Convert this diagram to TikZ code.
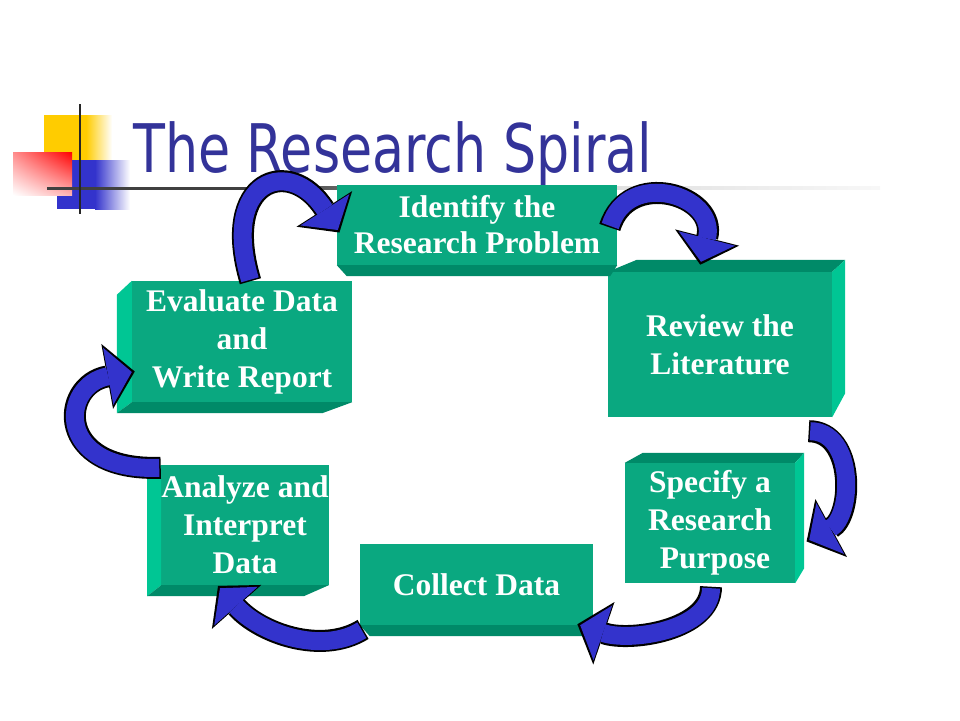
\documentclass[tikz,border=0pt]{standalone}
\usepackage{fontspec}
\usepackage{graphicx}
\setmainfont{Liberation Serif}
\newfontfamily\titlefont{DejaVu Sans}
\usetikzlibrary{arrows.meta,calc,shadings}
\definecolor{boxteal}{RGB}{10,168,128}
\definecolor{boxdark}{RGB}{0,138,104}
\definecolor{boxlight}{RGB}{0,198,148}
\definecolor{arrowblue}{RGB}{51,51,204}
\definecolor{titleblue}{RGB}{51,51,153}
\definecolor{logoyellow}{RGB}{255,204,0}
\definecolor{logored}{RGB}{255,0,0}
\tikzset{
  stagebox/.style={fill=boxteal, text=white, inner sep=0pt, align=center,
    font=\bfseries\fontsize{31.5}{38}\selectfont},
  spiralarrow/.style={draw=arrowblue, line width=18pt,
    -{Triangle[length=24pt,width=58pt,line width=0pt]},
    preaction={draw=black, line width=22pt, shorten >=-3pt, shorten <=-1.5pt,
      -{Triangle[length=28pt,width=66pt,line width=0pt]}}}
}
\begin{document}
\begin{tikzpicture}[x=1pt, y=-1pt]
        \useasboundingbox (0,0) rectangle (960,720);
        \fill[logoyellow] (44,115) rectangle (86,160);
        \shade[left color=logoyellow, right color=white] (86,115) rectangle (112,160);
        \fill[arrowblue] (57,160) rectangle (95,209);
        \shade[left color=arrowblue, right color=white] (95,160) rectangle (130,209);
        \shade[upper left=logored!45!white, upper right=logored, lower left=white, lower right=logored!30!white] (13,152) rectangle (72,195);
        \fill[black!75] (47,186.5) rectangle (260,189.5);
        \shade[left color=black!75, right color=black!12] (260,186.5) rectangle (620,189.5);
        \shade[left color=black!12, right color=black!3] (620,186.5) rectangle (880,189.5);
        \draw[black!85, line width=2.5pt] (80,104) -- (80,214);
        \node [anchor=base west, inner sep=0pt, text=titleblue, font=\titlefont\fontsize{67}{80}\selectfont] (title) at (133,172) {\scalebox{0.78}[1]{The Research Spiral}};
        \node [stagebox, minimum width=280pt, minimum height=80pt, font=\bfseries\fontsize{31.5}{36}\selectfont] (identify) at (477,225) {Identify the\\Research Problem};
        \node [stagebox, minimum width=224pt, minimum height=145pt] (review) at (720,344.5) {Review the\\Literature};
        \node [stagebox, minimum width=170pt, minimum height=120pt] (specify) at (710,523) {Specify a\\Research\\\hspace*{10pt}Purpose};
        \node [stagebox, minimum width=233pt, minimum height=81pt] (collect) at (476.5,584.5) {Collect Data};
        \node [stagebox, minimum width=166pt, minimum height=120pt] (analyze) at (245,525) {Analyze and\\Interpret\\Data};
        \node [stagebox, minimum width=220pt, minimum height=121pt] (evaluate) at (242,341.5) {Evaluate Data\\and\\Write Report};
        \fill[boxdark] (identify.south west) -- (identify.south east) -- ++(-7,11) -- ($(identify.south west)+(10,11)$) -- cycle;
        \fill[boxdark] (review.north west) -- ++(29,-12) -- ($(review.north east)+(13,-12)$) -- (review.north east) -- cycle;
        \fill[boxlight] (review.north east) -- ++(13,-12) -- ($(review.south east)+(13,-24)$) -- (review.south east) -- cycle;
        \fill[boxdark] (specify.north west) -- ++(18,-10) -- ($(specify.north east)+(9,-10)$) -- (specify.north east) -- cycle;
        \fill[boxlight] (specify.north east) -- ++(9,-10) -- ($(specify.south east)+(9,-15)$) -- (specify.south east) -- cycle;
        \fill[boxdark] (collect.south west) -- (collect.south east) -- ++(-11,11) -- ($(collect.south west)+(10,11)$) -- cycle;
        \fill[boxlight] (analyze.north west) -- ++(-14,13) -- ($(analyze.south west)+(-14,11)$) -- (analyze.south west) -- cycle;
        \fill[boxdark] (analyze.south west) -- (analyze.south east) -- ++(-25,11) -- ($(analyze.south west)+(-14,11)$) -- cycle;
        \fill[boxlight] (evaluate.north west) -- ++(-15,14) -- ($(evaluate.south west)+(-15,11)$) -- (evaluate.south west) -- cycle;
        \fill[boxdark] (evaluate.south west) -- (evaluate.south east) -- ++(-30,11) -- ($(evaluate.south west)+(-15,11)$) -- cycle;
        \draw[spiralarrow] ($(identify.east)+(-7,1)$) .. controls +(18,-58) and +(17,-67) .. ($(review.north)+(-19,-10)$);
        \draw[spiralarrow] ($(review.south east)+(-22,14)$) .. controls +(45,0) and +(44,-24) .. ($(specify.east)+(14,17)$);
        \draw[spiralarrow] ($(specify.south)+(1,5)$) .. controls +(0,42) and +(50,17) .. ($(collect.south east)+(-13,0)$);
        \draw[spiralarrow] ($(collect.south west)+(2,5)$) .. controls +(-40,25) and +(40,45) .. ($(analyze.south)+(-25,3)$);
        \draw[spiralarrow] ($(analyze.north west)+(-2,3)$) .. controls +(-105,4) and +(-72,13) .. ($(evaluate.west)+(0,30.5)$);
        \draw[spiralarrow] ($(evaluate.north)+(8,-1)$) .. controls +(-30,-100) and +(-48,-75) .. ($(identify.west)+(1,5)$);
\end{tikzpicture}
\end{document}
